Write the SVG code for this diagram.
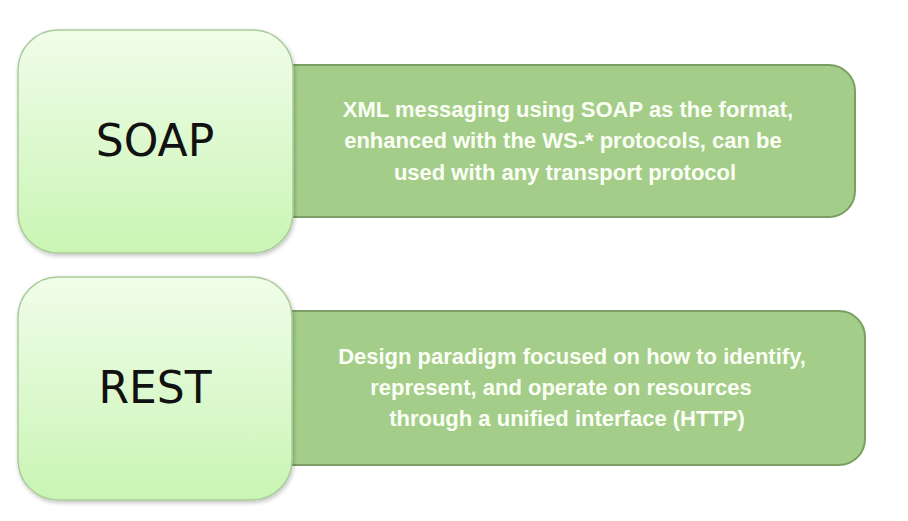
<svg xmlns="http://www.w3.org/2000/svg" width="908" height="521" viewBox="0 0 908 521">
<defs>
<linearGradient id="lg" x1="0" y1="0" x2="0" y2="1">
<stop offset="0" stop-color="#f1fdea"/>
<stop offset="1" stop-color="#c9f5b4"/>
</linearGradient>
<filter id="sh" x="-10%" y="-10%" width="120%" height="120%">
<feGaussianBlur in="SourceAlpha" stdDeviation="2"/>
<feOffset dx="1" dy="2"/>
<feComponentTransfer><feFuncA type="linear" slope="0.25"/></feComponentTransfer>
<feMerge><feMergeNode/><feMergeNode in="SourceGraphic"/></feMerge>
</filter>
</defs>
<style>
.desc{fill:#a3cd89;stroke:#7b9f63;stroke-width:2}
.head{fill:url(#lg);stroke:#aacb99;stroke-width:1.5}
.ht{font-family:"DejaVu Sans","Liberation Sans",sans-serif;font-size:44px;fill:#111;text-anchor:middle}
.dt{font-family:"Liberation Sans","DejaVu Sans",sans-serif;font-weight:bold;font-size:22px;fill:#fbfff5;text-anchor:middle}
</style>
<rect width="908" height="521" fill="#ffffff"/>
<g id="connectors"></g>
<g id="soap-desc">
<rect class="desc" x="262" y="65" width="593" height="152" rx="26"/>
<text class="dt" x="568" y="117">XML messaging using SOAP as the format,</text>
<text class="dt" x="563" y="148">enhanced with the WS-* protocols, can be</text>
<text class="dt" x="565" y="180">used with any transport protocol</text>
</g>
<g id="soap">
<rect class="head" x="18" y="30" width="275" height="223" rx="40" filter="url(#sh)"/>
<text class="ht" x="155" y="156">SOAP</text>
</g>
<g id="rest-desc">
<rect class="desc" x="262" y="311" width="603" height="154" rx="26"/>
<text class="dt" x="572" y="364">Design paradigm focused on how to identify,</text>
<text class="dt" x="561" y="395">represent, and operate on resources</text>
<text class="dt" x="567" y="426">through a unified interface (HTTP)</text>
</g>
<g id="rest">
<rect class="head" x="18" y="277" width="274" height="223" rx="40" filter="url(#sh)"/>
<text class="ht" x="155" y="403">REST</text>
</g>
</svg>
